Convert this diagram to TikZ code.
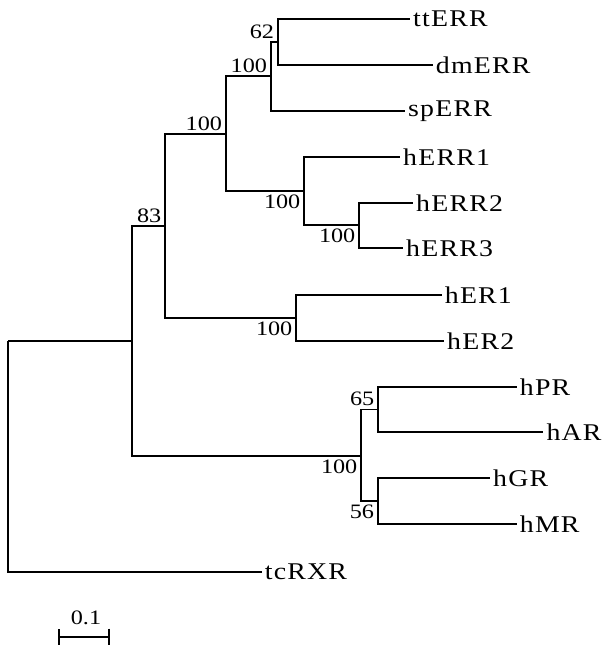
\documentclass[tikz,border=0pt]{standalone}
\usepackage{fontspec}
\setmainfont{Liberation Serif}
\newfontfamily\hojafont[FakeStretch=1.16, LetterSpace=5]{Liberation Serif}
\newfontfamily\soportefont[FakeStretch=1.18]{Liberation Serif}
\usetikzlibrary{arrows.meta}

\tikzset{
  rama/.style={line width=1.8pt},
  hoja/.style={anchor=west, inner sep=3pt, font=\hojafont\fontsize{24}{27}\selectfont},
  soporte/.style={inner sep=3.5pt, font=\soportefont\fontsize{20.5}{24}\selectfont},
}

\begin{document}
\begin{tikzpicture}[x=1pt,y=-1pt]
\useasboundingbox (0,0) rectangle (607,646);

%Nodos internos
\coordinate (raiz) at (8.3,340.7);
\coordinate (nA) at (131.7,340.7);
\coordinate[label={[soporte]above left:83}] (nB) at (165,226);
\coordinate[label={[soporte]above left:100}] (nC) at (225.7,134);
\coordinate[label={[soporte]above left:100}] (nD) at (270.7,76);
\coordinate[label={[soporte]above left:62}] (nE) at (277.7,42);
\coordinate[label={[soporte]below left:100}] (nF) at (304,191);
\coordinate[label={[soporte]below left:100}] (nG) at (359,225.3);
\coordinate[label={[soporte]below left:100}] (nH) at (296,317.7);
\coordinate[label={[soporte]below left:100}] (nI) at (361,455.7);
\coordinate[label={[soporte]above left:65}] (nJ) at (378,409.4);
\coordinate[label={[soporte]below left:56}] (nK) at (377.7,501);

%Hojas
\node[hoja] (ttERR) at (410,19) {ttERR};
\node[hoja] (dmERR) at (432.7,65) {dmERR};
\node[hoja] (spERR) at (405,111) {spERR};
\node[hoja] (hERR1) at (400,157) {hERR1};
\node[hoja] (hERR2) at (413,202.7) {hERR2};
\node[hoja] (hERR3) at (403,248) {hERR3};
\node[hoja] (hER1) at (441.7,295) {hER1};
\node[hoja] (hER2) at (444,340.7) {hER2};
\node[hoja] (hPR) at (516.7,386.7) {hPR};
\node[hoja] (hAR) at (543.3,432) {hAR};
\node[hoja] (hGR) at (490,478) {hGR};
\node[hoja] (hMR) at (516.7,524) {hMR};
\node[hoja] (tcRXR) at (261.7,571.7) {tcRXR};

%Raiz
\draw[rama] (raiz) -- (nA);
\draw[rama] (raiz) |- (tcRXR.west);
\draw[rama] (nA) |- (nB);
\draw[rama] (nA) |- (nI);

%Clado ERR y ER
\draw[rama] (nB) |- (nC);
\draw[rama] (nB) |- (nH);
\draw[rama] (nC) |- (nD);
\draw[rama] (nC) |- (nF);
\draw[rama] (nD) |- (nE);
\draw[rama] (nD) |- (spERR.west);
\draw[rama] (nE) |- (ttERR.west);
\draw[rama] (nE) |- (dmERR.west);
\draw[rama] (nF) |- (hERR1.west);
\draw[rama] (nF) |- (nG);
\draw[rama] (nG) |- (hERR2.west);
\draw[rama] (nG) |- (hERR3.west);
\draw[rama] (nH) |- (hER1.west);
\draw[rama] (nH) |- (hER2.west);

%Esteroides
\draw[rama] (nI) |- (nJ);
\draw[rama] (nI) |- (nK);
\draw[rama] (nJ) |- (hPR.west);
\draw[rama] (nJ) |- (hAR.west);
\draw[rama] (nK) |- (hGR.west);
\draw[rama] (nK) |- (hMR.west);

%Escala
\coordinate (escI) at (58.3,636.7);
\coordinate (escD) at (110,636.7);
\draw[rama, {Bar[width=16pt]}-{Bar[width=16pt]}] (escI) -- (escD);
\node[soporte, anchor=south] (escTxt) at (86,628) {0.1};
\end{tikzpicture}
\end{document}
